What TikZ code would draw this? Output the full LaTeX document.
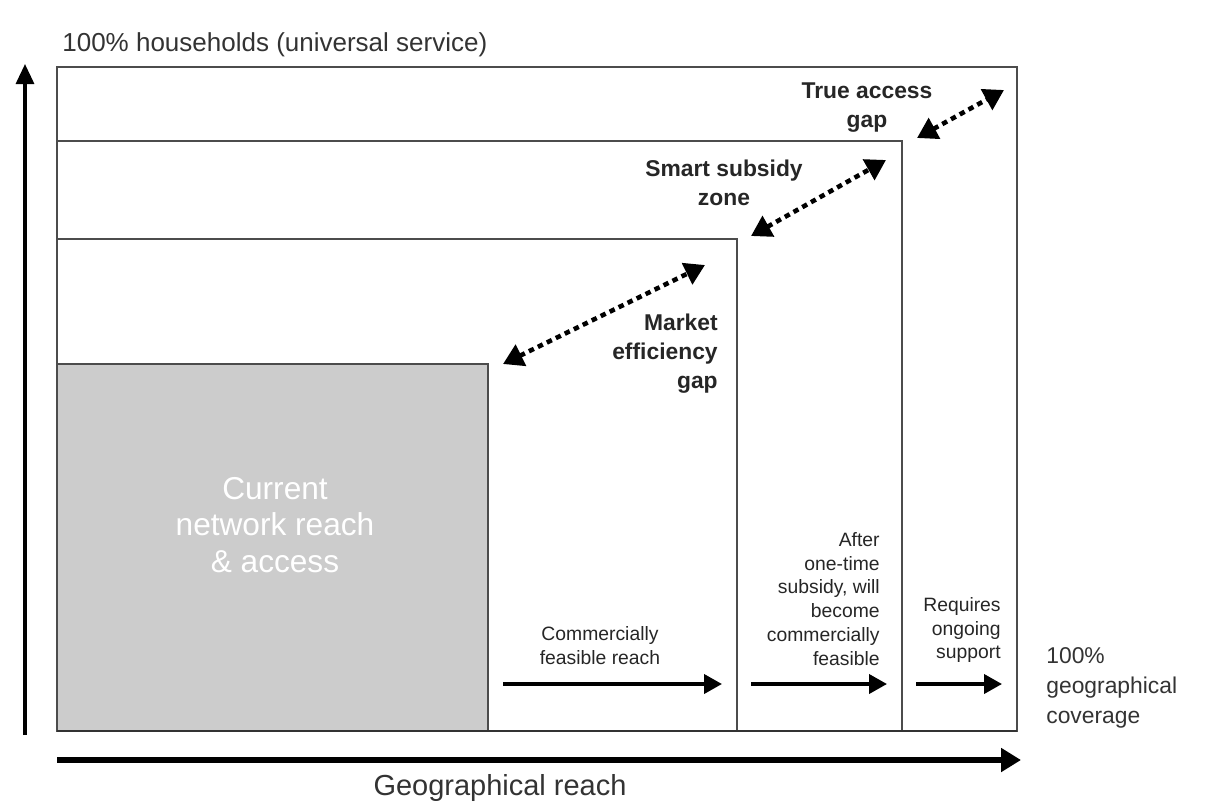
\documentclass[tikz,border=0pt]{standalone}
\usepackage{fontspec}
\setmainfont{Liberation Sans}
\usepackage{tikz}
\usetikzlibrary{positioning,arrows.meta}

\begin{document}
\begin{tikzpicture}[x=0.02cm,y=-0.02cm,
  zone/.style={draw=black!70,line width=1.1pt},
  gaparrow/.style={line width=2.6pt,dash pattern=on 1.1mm off 0.9mm,
    {Triangle[length=4mm,width=4.6mm]}-{Triangle[length=4mm,width=4.6mm]}},
  reacharrow/.style={line width=2.2pt,-{Triangle[length=3.6mm,width=3.8mm]}},
  axislabel/.style={font=\fontsize{14.8}{17}\selectfont,text=black!80,inner sep=0pt},
  gaplabel/.style={font=\fontsize{13}{16.5}\selectfont\bfseries,text=black!85,inner sep=0pt},
  smalllabel/.style={font=\fontsize{11}{13.6}\selectfont,text=black!85,inner sep=0pt}]
\useasboundingbox (0,0) rectangle (1206,809);

% zones
\draw[zone] (57,67) rectangle (1017,731);
\draw[zone] (57,141) -- (902,141) -- (902,731);
\draw[zone] (57,239) -- (737,239) -- (737,731);
\filldraw[zone,fill=black!20] (57,364) rectangle (488,731);
\draw[line width=1.6pt,black!80] (57,731) -- (1017,731);

% labels
\node[axislabel,anchor=west] (households) at (62,45) {100\% households (universal service)};
\node[axislabel,font=\fontsize{16.5}{19}\selectfont,anchor=north] (reach) at (500,774) {Geographical reach};
\node[axislabel,font=\fontsize{13}{17}\selectfont,anchor=west,align=left] (coverage) at (1046,688) {100\%\\geographical\\coverage};
\node[font=\fontsize{18}{21}\selectfont,text=white,align=center] (current) at (275,525) {Current\\network reach\\\& access};

\node[gaplabel,anchor=east,align=right] (market) at (718,354) {Market\\efficiency\\gap};
\node[gaplabel,align=center] (smart) at (724,183) {Smart subsidy\\zone};
\node[gaplabel,align=center] (trueaccess) at (867,108) {True access\\gap};

\node[smalllabel,align=center] (commercial) at (600,646) {Commercially\\feasible reach};
\node[smalllabel,anchor=east,align=right] (onetime) at (880,599) {After\\one-time\\subsidy, will\\become\\commercially\\feasible};
\node[smalllabel,anchor=east,align=right] (ongoing) at (1001,630) {Requires\\ongoing\\support};

% arrow ends
\coordinate (me1) at (503,364);
\coordinate (me2) at (705,265);
\coordinate (ss1) at (751,236);
\coordinate (ss2) at (886,160);
\coordinate (ta1) at (917,138);
\coordinate (ta2) at (1004,90);
\coordinate (cf1) at (503,684);
\coordinate (cf2) at (722,684);
\coordinate (ot1) at (751,684);
\coordinate (ot2) at (887,684);
\coordinate (os1) at (916,684);
\coordinate (os2) at (1002,684);
\coordinate (ya) at (25,735);
\coordinate (yb) at (25,64);
\coordinate (xa) at (57,760);
\coordinate (xb) at (1021,760);

% gaps
\draw[gaparrow] (me1) -- (me2);
\draw[gaparrow] (ss1) -- (ss2);
\draw[gaparrow] (ta1) -- (ta2);

% reach
\draw[reacharrow] (cf1) -- (cf2);
\draw[reacharrow] (ot1) -- (ot2);
\draw[reacharrow] (os1) -- (os2);

% axes
\draw[line width=1.8pt,-{Triangle[length=4mm,width=3.6mm]}] (ya) -- (yb);
\draw[line width=3pt,-{Triangle[length=4mm,width=4.6mm]}] (xa) -- (xb);
\end{tikzpicture}
\end{document}
